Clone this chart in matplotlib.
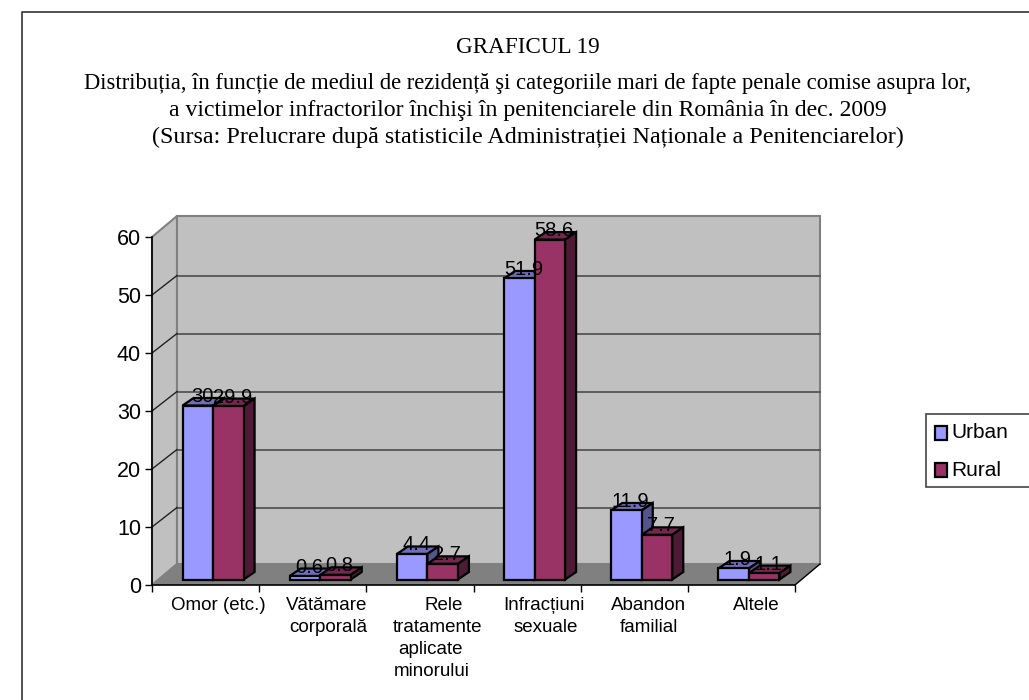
import matplotlib
matplotlib.use('Agg')
import matplotlib.pyplot as plt
from matplotlib.patches import Rectangle
from matplotlib.lines import Line2D

# Values
categories = ['Omor (etc.)', 'Vătămare', 'Rele', 'Infracțiuni', 'Abandon', 'Altele']
urban = [30, 0.6, 4.4, 51.9, 11.9, 1.9]
rural = [29.9, 0.8, 2.7, 58.6, 7.7, 1.1]
urban_labels = ['30', '0.6', '4.4', '51.9', '11.9', '1.9']
rural_labels = ['29.9', '0.8', '2.7', '58.6', '7.7', '1.1']
y_ticks = [0, 10, 20, 30, 40, 50, 60]

# one (text, x shift in px) per line under each category
cat_lines = [
    [('Omor (etc.)', 13)],
    [('Vătămare', 14), ('corporală', 16)],
    [('Rele', 24), ('tratamente', 18), ('aplicate', 11), ('minorului', 12)],
    [('Infracțiuni', 17), ('sexuale', 19)],
    [('Abandon', 14), ('familial', 15)],
    [('Altele', 15)],
]
line_y = [606, 628, 650, 672]

# text, font size, baseline y in px
title_lines = [
    ('GRAFICUL 19', 16.7, 53),
    ('Distribuția, în funcție de mediul de rezidență şi categoriile mari de fapte penale comise asupra lor,', 16.3, 89),
    ('a victimelor infractorilor închişi în penitenciarele din România în dec. 2009', 17.15, 116),
    ('(Sursa: Prelucrare după statisticile Administrației Naționale a Penitenciarelor)', 17.35, 143),
]

W, H = 1029, 700
fig = plt.figure(figsize=(W / 100, H / 100), dpi=100)
serif = 'Liberation Serif'
sans = 'Liberation Sans'

# figure frame, open at right and bottom
fig.add_artist(Line2D([22 / W, 22 / W, 1], [0, 1 - 12 / H, 1 - 12 / H], color='#222222', lw=1.1))

for line, size, py in title_lines:
    fig.text(528 / W, 1 - py / H, line, family=serif, fontsize=size, ha='center', va='baseline', color='black')

# front plane of the 3D box
left, right, bottom, top = 152, 795, 585, 237
ax = fig.add_axes([left / W, 1 - bottom / H, (right - left) / W, (bottom - top) / H])
ax.set_xlim(0, 6)
ax.set_ylim(0, 60)
ax.patch.set_visible(False)
for s in ['top', 'right', 'bottom', 'left']:
    ax.spines[s].set_visible(False)

px_x = 6 / (right - left)
px_y = 60 / (bottom - top)
dx = 25 * px_x
dy = 21 * px_y
grid_off = -1.5 * px_y

# walls and floor
ax.fill([0, dx, dx, 0], [0, dy, 60 + dy, 60], fc='#C0C0C0', ec='#808080', lw=1.5, clip_on=False, zorder=1)
ax.fill([dx, 6 + dx, 6 + dx, dx], [dy, dy, 60 + dy, 60 + dy], fc='#C0C0C0', ec='#808080', lw=1.5, clip_on=False, zorder=1)
ax.fill([0, 6, 6 + dx, dx], [0, 0, dy, dy], fc='#808080', ec='none', clip_on=False, zorder=2)

# gridlines
for t in y_ticks[1:-1]:
    ax.plot([dx, 6 + dx], [t + dy + grid_off, t + dy + grid_off], color='#555555', lw=1.3, clip_on=False, zorder=1.5)
for t in y_ticks[1:-1]:
    ax.plot([0, dx], [t, t + dy + grid_off], color='#222222', lw=1, clip_on=False, zorder=1.5)
ax.plot([0, dx], [0, dy], color='#808080', lw=1, clip_on=False, zorder=2)
ax.plot([6, 6 + dx], [0, dy], color='black', lw=1, clip_on=False, zorder=2)

# axes lines and ticks
ax.plot([0, 0], [0, 60], color='black', lw=1.2, clip_on=False, zorder=3)
ax.plot([0, 6], [0, 0], color='black', lw=1.2, clip_on=False, zorder=3)
ax.set_xticks(range(7))
ax.set_xticklabels([])
ax.set_yticks(y_ticks)
ax.set_yticklabels([str(t) for t in y_ticks], family=sans, fontsize=15.5)
ax.tick_params(axis='x', length=5, width=1, color='black')
ax.tick_params(axis='y', length=5, width=1, color='black', pad=3)

# bars
bar_w = 30.5 * px_x
base = 5.5 * px_y
shift = 7.5 * px_x
depth_x = 11 * px_x
depth_y = 7.5 * px_y


def draw_bar(x0, val, front, topc, side, label):
    y1 = base + val
    x1 = x0 + bar_w
    ax.bar(x0, val, width=bar_w, bottom=base, align='edge', color=front, edgecolor='black', lw=1.6, clip_on=False, zorder=5)
    ax.fill([x0, x1, x1 + depth_x, x0 + depth_x], [y1, y1, y1 + depth_y, y1 + depth_y],
            fc=topc, ec='black', lw=1.6, clip_on=False, zorder=4)
    ax.fill([x1, x1 + depth_x, x1 + depth_x, x1], [base, base + depth_y, y1 + depth_y, y1],
            fc=side, ec='black', lw=1.6, clip_on=False, zorder=4)
    ax.text(x0 + bar_w / 2 + 4.2 * px_x, y1 + 9 * px_y, label, family=sans, fontsize=14.5, ha='center', va='center',
            color='black', zorder=6, clip_on=False)


for i in range(len(categories)):
    xc = i + 0.5 + shift
    draw_bar(xc - bar_w, urban[i], '#9999FF', '#6E6EB8', '#55558E', urban_labels[i])
    draw_bar(xc, rural[i], '#993366', '#752750', '#4F1A35', rural_labels[i])

# category labels
for i, lines in enumerate(cat_lines):
    cx = left + (i + 0.5) * (right - left) / 6
    for j, (txt, sh) in enumerate(lines):
        fig.text((cx + sh) / W, 1 - line_y[j] / H, txt, family=sans, fontsize=13.5, ha='center', va='center', color='black')

# legend
fig.add_artist(Rectangle((926 / W, 1 - 487 / H), 110 / W, 73 / H, fc='white', ec='#444444', lw=1.2, transform=fig.transFigure))
for name, col, py in [('Urban', '#9999FF', 433), ('Rural', '#993366', 470)]:
    fig.add_artist(Rectangle((935 / W, 1 - (py + 7) / H), 12 / W, 14 / H, fc=col, ec='black', lw=1.6, transform=fig.transFigure))
    fig.text(951 / W, 1 - py / H, name, family=sans, fontsize=15, ha='left', va='center', color='black')

fig.savefig('out.png', dpi=100)
